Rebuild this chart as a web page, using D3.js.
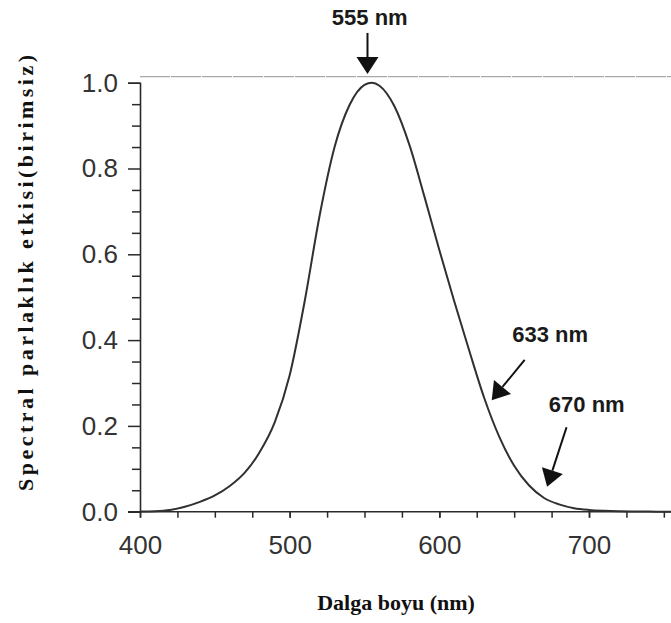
<!DOCTYPE html>
<html>
<head>
<meta charset="utf-8">
<script src="https://cdn.jsdelivr.net/npm/d3@7"></script>
<style>
  html, body { margin: 0; padding: 0; background: #fff; }
  svg { display: block; }
</style>
</head>
<body>
<svg id="chart" width="671" height="623"></svg>
<script>
// wavelength (nm) and relative spectral efficacy
var wavelengths = [400, 410, 420, 430, 440, 450, 460, 470, 480, 490, 500, 510, 520, 530, 540, 550, 555,
    560, 570, 580, 590, 600, 610, 620, 630, 640, 650, 660, 670, 680, 690, 700, 710, 720, 730, 740, 750, 770, 790];
var efficacy = [0.0004, 0.0012, 0.004, 0.0116, 0.023, 0.038, 0.06, 0.091, 0.139, 0.208, 0.318, 0.49, 0.69, 0.85, 0.948, 0.995, 1.0,
    0.993, 0.945, 0.855, 0.735, 0.61, 0.49, 0.375, 0.265, 0.175, 0.107, 0.061, 0.032, 0.017, 0.0082, 0.0041, 0.0021, 0.001, 0.0005, 0.0002, 0.0001, 0, 0];

var xMajorTicks = [400, 500, 600, 700];
var xMinorTicks = [400, 425, 450, 475, 500, 525, 550, 575, 600, 625, 650, 675, 700, 725, 750];
var yMajorTicks = [0, 0.2, 0.4, 0.6, 0.8, 1.0];
var yMinorTicks = [0.05, 0.1, 0.15, 0.25, 0.3, 0.35, 0.45, 0.5, 0.55, 0.65, 0.7, 0.75, 0.85, 0.9, 0.95];

// arrow annotations: label, tail (wl, value), tip (wl, value), label anchor (wl, value)
var noteLabels = ['555 nm', '633 nm', '670 nm'];
var noteTails = [[552, 1.116], [657, 0.354], [685, 0.197]];
var noteTips = [[552, 1.02], [635, 0.26], [672, 0.058]];
var noteAnchors = [[553.5, 1.134], [674, 0.396], [698.5, 0.232]];

var xTitle = 'Dalga boyu (nm)';
var yTitle = 'Spectral parlaklık  etkisi(birimsiz)';

(function () {
    var W = 671, H = 623;
    var svg = d3.select('#chart');

    var x = d3.scaleLinear().domain([400, 700]).range([140, 589]);
    var y = d3.scaleLinear().domain([0, 1]).range([511.7, 82.7]);

    var ink = '#2a2a2a';

    // top frame line (faint, like the scan)
    svg.append('line')
        .attr('x1', x(400)).attr('x2', W)
        .attr('y1', y(1.014)).attr('y2', y(1.014))
        .attr('stroke', '#a8a8a8')
        .attr('stroke-width', 1.3)
        .attr('stroke-dasharray', '30,1');

    // x axis: minor ticks
    var gx = svg.append('g').attr('transform', 'translate(0,' + y(0) + ')');
    gx.call(d3.axisBottom(x).tickValues(xMinorTicks).tickSize(6).tickFormat(''));
    gx.select('.domain').remove();
    gx.selectAll('line').attr('stroke', ink).attr('stroke-width', 1.5);
    gx.append('line')
        .attr('x1', x(400) - 12).attr('x2', W)
        .attr('stroke', ink).attr('stroke-width', 1.6);

    // x axis: labels
    var gxl = svg.append('g').attr('transform', 'translate(0,' + y(0) + ')');
    gxl.call(d3.axisBottom(x).tickValues(xMajorTicks).tickSize(6).tickPadding(18).tickFormat(d3.format('d')));
    gxl.select('.domain').remove();
    gxl.selectAll('line').attr('stroke', ink).attr('stroke-width', 1.5);
    gxl.selectAll('text')
        .attr('font-family', 'Liberation Sans, Arial, sans-serif')
        .attr('font-size', 26)
        .attr('fill', '#333');

    // y axis
    var gy = svg.append('g').attr('transform', 'translate(' + x(400) + ',0)');
    gy.call(d3.axisLeft(y).tickValues(yMinorTicks).tickSize(8).tickFormat(''));
    gy.select('.domain').remove();
    gy.selectAll('line').attr('stroke', ink).attr('stroke-width', 1.5);

    var gyl = svg.append('g').attr('transform', 'translate(' + x(400) + ',0)');
    gyl.call(d3.axisLeft(y).tickValues(yMajorTicks).tickSize(12).tickPadding(10).tickFormat(d3.format('.1f')));
    gyl.select('.domain').attr('stroke', ink).attr('stroke-width', 1.6);
    gyl.selectAll('line').attr('stroke', ink).attr('stroke-width', 1.5);
    gyl.selectAll('text')
        .attr('font-family', 'Liberation Sans, Arial, sans-serif')
        .attr('font-size', 26)
        .attr('fill', '#333');

    // curve
    var pts = wavelengths.map(function (w, i) { return [w, efficacy[i]]; });
    svg.append('path')
        .datum(pts)
        .attr('d', d3.line()
            .x(function (d) { return x(d[0]); })
            .y(function (d) { return y(d[1]); })
            .curve(d3.curveMonotoneX))
        .attr('fill', 'none')
        .attr('stroke', '#303030')
        .attr('stroke-width', 2);

    // arrows with labels
    noteLabels.forEach(function (label, i) {
        var tx = x(noteTails[i][0]), ty = y(noteTails[i][1]);
        var hx = x(noteTips[i][0]), hy = y(noteTips[i][1]);
        var ang = Math.atan2(hy - ty, hx - tx);
        var headLen = 17, headW = 11;
        var bx = hx - headLen * Math.cos(ang), by = hy - headLen * Math.sin(ang);
        svg.append('line')
            .attr('x1', tx).attr('y1', ty)
            .attr('x2', bx).attr('y2', by)
            .attr('stroke', '#111').attr('stroke-width', 2);
        var px = -Math.sin(ang) * headW, py = Math.cos(ang) * headW;
        svg.append('path')
            .attr('d', 'M' + [hx, hy].join(',') +
                ' L' + [bx + px, by + py].join(',') +
                ' L' + [bx - px, by - py].join(',') + ' Z')
            .attr('fill', '#111');
        svg.append('text')
            .attr('x', x(noteAnchors[i][0]))
            .attr('y', y(noteAnchors[i][1]))
            .attr('text-anchor', 'middle')
            .attr('font-family', 'Liberation Sans, Arial, sans-serif')
            .attr('font-weight', 'bold')
            .attr('font-size', 22)
            .attr('fill', '#1a1a1a')
            .text(label);
    });

    // axis titles
    svg.append('text')
        .attr('x', 396).attr('y', 610)
        .attr('text-anchor', 'middle')
        .attr('font-family', 'Liberation Serif, Times New Roman, serif')
        .attr('font-weight', 'bold')
        .attr('font-size', 22)
        .attr('fill', '#111')
        .text(xTitle);

    svg.append('text')
        .attr('transform', 'translate(33,273) rotate(-90)')
        .attr('text-anchor', 'middle')
        .attr('font-family', 'Liberation Serif, Times New Roman, serif')
        .attr('font-weight', 'bold')
        .attr('font-size', 22)
        .attr('textLength', 436)
        .attr('lengthAdjust', 'spacing')
        .attr('fill', '#111')
        .text(yTitle);
})();
</script>
</body>
</html>
